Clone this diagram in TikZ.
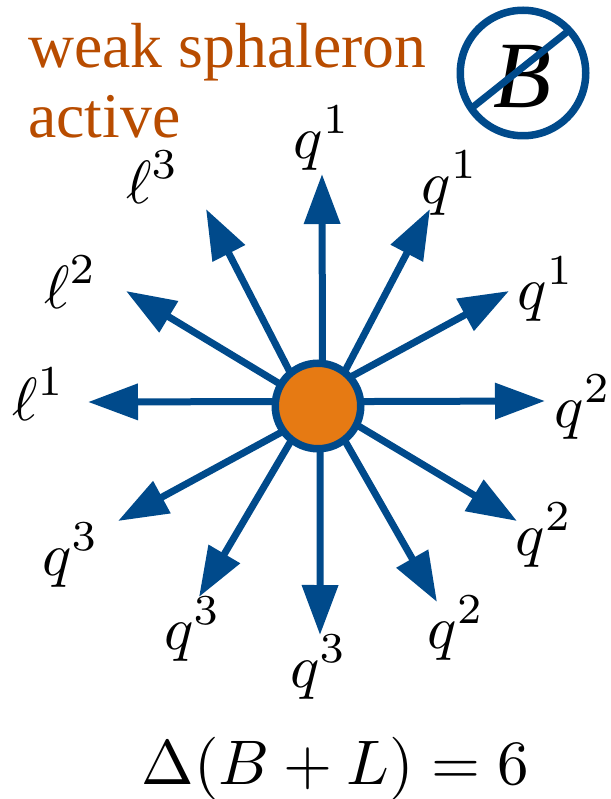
\documentclass[tikz,border=0pt]{standalone}
\usepackage{fontspec}
\newfontfamily\serifrm{Liberation Serif}
\usetikzlibrary{arrows.meta}
\definecolor{arrowblue}{HTML}{004A8B}
\definecolor{coreorange}{HTML}{E67A13}
\definecolor{titleorange}{HTML}{B84C00}
\newcommand{\lbl}[2]{$\displaystyle #1^{#2}$}
\tikzset{
  x=1pt,y=-1pt,
  ray/.style={draw=arrowblue,line width=7pt,-{Triangle[length=50pt,width=35pt,fill=arrowblue]}},
  lab/.style={scale=6.1,inner sep=0pt,text=black},
  title/.style={anchor=base west,inner sep=0pt,text=titleorange,font=\serifrm\fontsize{63.7}{64}\selectfont},
}
\begin{document}
\begin{tikzpicture}
\useasboundingbox (0,0) rectangle (610,799);
\node[title] (t1) at (28,68) {weak sphaleron};
\node[title] (t2) at (28,138) {active};
% no-B symbol
\node[inner sep=0pt,font=\serifrm\itshape\fontsize{95}{95}\selectfont] (bsym) at (523,76.5) {B};
\node[circle,draw=arrowblue,line width=7.5pt,minimum size=125.5pt,inner sep=0pt] (nob) at (523,73) {};
\coordinate (s1) at (473,107);
\coordinate (s2) at (567,32);
\draw[arrowblue,line width=7pt] (s1) -- (s2);
% rays
\coordinate (a1) at (322,174);
\coordinate (a2) at (430,209);
\coordinate (a3) at (509,291);
\coordinate (a4) at (545,401);
\coordinate (a5) at (517,521);
\coordinate (a6) at (437,602);
\coordinate (a7) at (320,635);
\coordinate (a8) at (199,597);
\coordinate (a9) at (118,521);
\coordinate (a10) at (88,402);
\coordinate (a11) at (126,291);
\coordinate (a12) at (206,209);
\node[circle,minimum size=85pt,inner sep=0pt] (c) at (318,406) {};
\draw[ray] (c.84.6) -- (a1);
\draw[ray] (c.52) -- (a2);
\draw[ray] (c.42) -- (a3);
\draw[ray] (c.6) -- (a4);
\draw[ray] (c.-26) -- (a5);
\draw[ray] (c.-52) -- (a6);
\draw[ray] (c.-87.3) -- (a7);
\draw[ray] (c.-128) -- (a8);
\draw[ray] (c.-144) -- (a9);
\draw[ray] (c.174.6) -- (a10);
\draw[ray] (c.150) -- (a11);
\draw[ray] (c.130) -- (a12);
\node[circle,fill=coreorange,draw=arrowblue,line width=7.5pt,minimum size=85.5pt,inner sep=0pt] (core) at (318,406) {};
% labels
\node[lab] (l1) at (322,138) {\lbl{q}{1}};
\node[lab] (l2) at (450,183) {\lbl{q}{1}};
\node[lab] (l3) at (546,289) {\lbl{q}{1}};
\node[lab] (l4) at (583,407) {\lbl{q}{2}};
\node[lab] (l5) at (544,535) {\lbl{q}{2}};
\node[lab] (l6) at (456,628) {\lbl{q}{2}};
\node[lab] (l7) at (318.5,667) {\lbl{q}{3}};
\node[lab] (l8) at (192.5,629) {\lbl{q}{3}};
\node[lab] (l9) at (70.5,555) {\lbl{q}{3}};
\node[lab] (l10) at (38.5,394) {\lbl{\ell}{1}};
\node[lab] (l11) at (70.5,282) {\lbl{\ell}{2}};
\node[lab] (l12) at (152.5,177) {\lbl{\ell}{3}};
\node[scale=6.3,inner sep=0pt] (eq) at (335.5,769) {$\Delta(B+L)=6$};
\end{tikzpicture}
\end{document}
